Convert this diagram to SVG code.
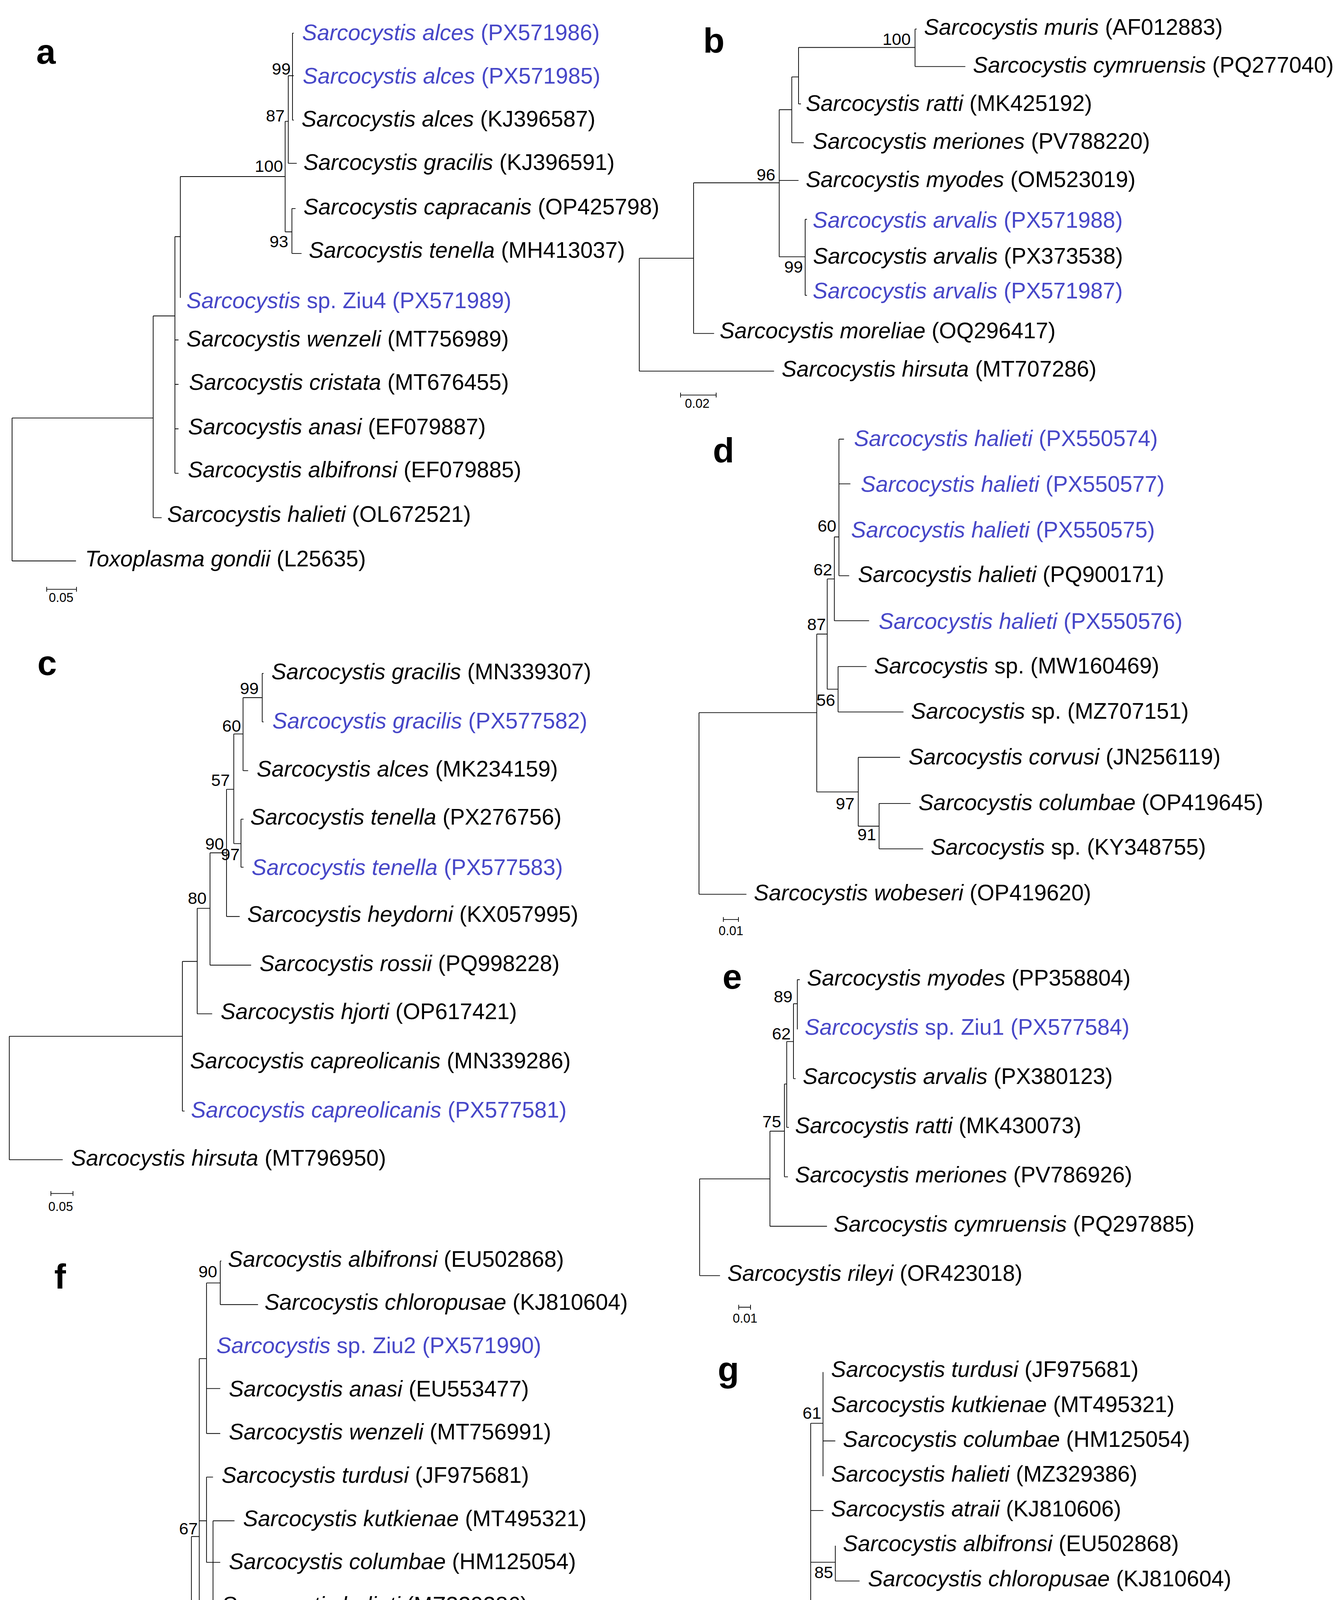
<svg xmlns="http://www.w3.org/2000/svg" width="3429" height="4821" viewBox="0 0 3429 4821">
<style>
.t{font-family:"Liberation Sans",Arial,sans-serif;font-size:18.5px;fill:#000}
.b{fill:#4747c8}
.i{font-style:italic}
.n{font-family:"Liberation Sans",Arial,sans-serif;font-size:14px;text-anchor:end;fill:#000}
.s{font-family:"Liberation Sans",Arial,sans-serif;font-size:10.5px;text-anchor:middle;fill:#000}
.L{font-family:"Liberation Sans",Arial,sans-serif;font-size:29px;font-weight:bold;fill:#000}
.ln{fill:none;stroke:#000;stroke-width:0.6}
</style>
<rect width="3429" height="4821" fill="#fff"/>
<g transform="scale(3.089,3.075)">
<g id="connectors" class="ln">
<path d="M10 348V467M10 348H127M10 467H63M127 263V431M127 263H145M127 431H134M145 197V394M145 197H149.5M145 283H148M145 320H148M145 357H148M145 394H148M149.5 147V248M149.5 147H236.4M236.4 101V193M236.4 101H239M236.4 193H242M239 63V136M239 63H242.5M239 136H246M242.5 27.6V100M242.5 27.6H243.5M242.5 63H243.5M242.5 100H243.5M242 173.6V211M242 173.6H245M242 211H250"/>
<path d="M530 215V309M530 215H575M530 309H641.7M575 152.2V277.6M575 152.2H646M575 277.6H592M646 91.3V213.8M646 150.2H662M646 91.3H656.4M646 213.8H667.5M656.4 64V118.8M656.4 64H662M656.4 118.8H666.4M662 39.5V86.5M662 39.5H758.6M662 86.5H664M758.6 24.2V55.4M758.6 24.2H760M758.6 55.4H800.3M667.5 182.6V245.9M667.5 182.6H669M667.5 245.9H669"/>
<path d="M7.7 862.7V965.5M7.7 862.7H151.2M7.7 965.5H52M151.2 800.4V925M151.2 800.4H163.5M151.2 925H153M163.5 756.2V844M163.5 756.2H174.1M163.5 844H175.9M174.1 710V803.5M174.1 710H187.8M174.1 803.5H208.2M187.8 657.1V763M187.8 657.1H193.8M187.8 763H198.7M193.8 611V702.3M193.8 611H201.5M193.8 702.3H199.8M199.8 682V722M199.8 682H201.9M199.8 722H201.9M201.5 580.8V641.6M201.5 580.8H217.4M201.5 641.6H205.7M217.4 560.6V601M217.4 560.6H218.5M217.4 601H218.5"/>
<path d="M579.5 593.3V744.5M579.5 593.3H677.1M579.5 744.5H618.8M677.1 527.9V659.3M677.1 527.9H685.8M677.1 659.3H711.5M711.5 630.5V687.8M711.5 630.5H746.2M711.5 687.8H728.8M728.8 668.9V706.7M728.8 668.9H754.9M728.8 706.7H765.3M685.8 482V573.8M685.8 482H691.7M685.8 573.8H694.8M694.8 554.9V592.7M694.8 554.9H718.4M694.8 592.7H749M691.7 447V516.8M691.7 447H695.5M691.7 516.8H720.5M695.5 365.6V479.3M695.5 365.6H699.7M695.5 402.8H705M695.5 479.3H704"/>
<path d="M580 981.4V1062M580 981.4H638.3M580 1062H596.9M638.3 941.7V1020.9M638.3 941.7H650.3M638.3 1020.9H685.6M650.3 902.5V979.7M650.3 902.5H652.2M650.3 979.7H653.2M652.2 867.1V938.6M652.2 867.1H657.8M652.2 938.6H654M657.8 835.6V898M657.8 835.6H661M657.8 898H659.6M661 815.6V857M661 815.6H663"/>
<path d="M9.2 1380.3V1518.7M9.2 1380.3H158.7M9.2 1518.7H108.9M158.7 1279.2V1482.4M158.7 1279.2H165.2M158.7 1482.4H171.9M165.2 1131.1V1427M165.2 1131.1H171.2M165.2 1266.1H171.2M165.2 1373.4H171.2M165.2 1427H176.6M171.2 1068.1V1193.4M171.2 1068.1H182.6M171.2 1156H182.6M171.2 1193.4H182.6M182.6 1049.8V1086.1M182.6 1049.8H183.5M182.6 1086.1H213.9M171.2 1229.7V1300.7M171.2 1229.7H176.6M171.2 1300.7H182.6M176.6 1266.1V1337M176.6 1266.1H194.4M176.6 1408V1446M176.6 1408H177.5M176.6 1446H201.5"/>
<path d="M577.3 1338.2V1519.7M577.3 1338.2H672.1M577.3 1519.7H607.9M672.1 1184.9V1490.4M672.1 1184.9H682.3M672.1 1257.5H682.6M672.1 1300.6H692.5M672.1 1359.4H682.6M672.1 1490.4H692.5M682.3 1142.3V1229M682.3 1199.6H692.5M692.5 1286.8V1316.2M692.5 1316.2H712.6M682.6 1345.6V1374.1M682.6 1345.6H692.5M682.6 1374.1H692.5"/>
<path d="M38.7 488.6V492.6M38.7 490.6H63.4M63.4 488.6V492.6M564.2 326.9V330.9M564.2 328.9H593.7M593.7 326.9V330.9M42.2 991.6V995.6M42.2 993.6H60.5M60.5 991.6V995.6M599.7 763.5V767.5M599.7 765.5H612.2M612.2 763.5V767.5M612.4 1086.3V1090.3M612.4 1088.3H622.2M622.2 1086.3V1090.3M41.2 1536.5V1540.5M41.2 1538.5H66.9M66.9 1536.5V1540.5M609.7 1540.3V1544.3M609.7 1542.3H630.8M630.8 1540.3V1544.3"/>
</g>
<g id="panel-a">
<text class="L" x="30" y="53">a</text>
<text class="t b" x="250.5" y="33.5"><tspan class="i">Sarcocystis alces</tspan> (PX571986)</text>
<text class="t b" x="251" y="69.5"><tspan class="i">Sarcocystis alces</tspan> (PX571985)</text>
<text class="t" x="250" y="105.5"><tspan class="i">Sarcocystis alces</tspan> (KJ396587)</text>
<text class="t" x="251.6" y="141.5"><tspan class="i">Sarcocystis gracilis</tspan> (KJ396591)</text>
<text class="t" x="251.6" y="178.5"><tspan class="i">Sarcocystis capracanis</tspan> (OP425798)</text>
<text class="t" x="256" y="214.5"><tspan class="i">Sarcocystis tenella</tspan> (MH413037)</text>
<text class="t b" x="154.6" y="256.5"><tspan class="i">Sarcocystis</tspan> sp. Ziu4 (PX571989)</text>
<text class="t" x="154.6" y="288.5"><tspan class="i">Sarcocystis wenzeli</tspan> (MT756989)</text>
<text class="t" x="156.7" y="324.5"><tspan class="i">Sarcocystis cristata</tspan> (MT676455)</text>
<text class="t" x="156" y="361.5"><tspan class="i">Sarcocystis anasi</tspan> (EF079887)</text>
<text class="t" x="155.7" y="397.5"><tspan class="i">Sarcocystis albifronsi</tspan> (EF079885)</text>
<text class="t" x="138.6" y="434.5"><tspan class="i">Sarcocystis halieti</tspan> (OL672521)</text>
<text class="t" x="70.6" y="471.5"><tspan class="i">Toxoplasma gondii</tspan> (L25635)</text>
<text class="n" x="241" y="62">99</text>
<text class="n" x="236" y="101">87</text>
<text class="n" x="234.6" y="143">100</text>
<text class="n" x="239" y="206">93</text>
<text class="s" x="50.7" y="501">0.05</text>
</g>
<g id="panel-b">
<text class="L" x="583" y="44">b</text>
<text class="t" x="766" y="28.9"><tspan class="i">Sarcocystis muris</tspan> (AF012883)</text>
<text class="t" x="806.6" y="60.5"><tspan class="i">Sarcocystis cymruensis</tspan> (PQ277040)</text>
<text class="t" x="668" y="92.5"><tspan class="i">Sarcocystis ratti</tspan> (MK425192)</text>
<text class="t" x="673.8" y="124"><tspan class="i">Sarcocystis meriones</tspan> (PV788220)</text>
<text class="t" x="668" y="155.9"><tspan class="i">Sarcocystis myodes</tspan> (OM523019)</text>
<text class="t b" x="673.8" y="189.5"><tspan class="i">Sarcocystis arvalis</tspan> (PX571988)</text>
<text class="t" x="674" y="219.5"><tspan class="i">Sarcocystis arvalis</tspan> (PX373538)</text>
<text class="t b" x="673.8" y="248.5"><tspan class="i">Sarcocystis arvalis</tspan> (PX571987)</text>
<text class="t" x="596.6" y="281.5"><tspan class="i">Sarcocystis moreliae</tspan> (OQ296417)</text>
<text class="t" x="648" y="313.5"><tspan class="i">Sarcocystis hirsuta</tspan> (MT707286)</text>
<text class="n" x="755" y="37.3">100</text>
<text class="n" x="642.8" y="150.4">96</text>
<text class="n" x="665.7" y="227">99</text>
<text class="s" x="578" y="339.5">0.02</text>
</g>
<g id="panel-c">
<text class="L" x="31" y="562">c</text>
<text class="t" x="225" y="565.5"><tspan class="i">Sarcocystis gracilis</tspan> (MN339307)</text>
<text class="t b" x="225.8" y="606.5"><tspan class="i">Sarcocystis gracilis</tspan> (PX577582)</text>
<text class="t" x="212.8" y="646.5"><tspan class="i">Sarcocystis alces</tspan> (MK234159)</text>
<text class="t" x="207.5" y="686.5"><tspan class="i">Sarcocystis tenella</tspan> (PX276756)</text>
<text class="t b" x="208.6" y="728.5"><tspan class="i">Sarcocystis tenella</tspan> (PX577583)</text>
<text class="t" x="205" y="767.5"><tspan class="i">Sarcocystis heydorni</tspan> (KX057995)</text>
<text class="t" x="215.2" y="808.5"><tspan class="i">Sarcocystis rossii</tspan> (PQ998228)</text>
<text class="t" x="182.9" y="848.5"><tspan class="i">Sarcocystis hjorti</tspan> (OP617421)</text>
<text class="t" x="157.6" y="889.5"><tspan class="i">Sarcocystis capreolicanis</tspan> (MN339286)</text>
<text class="t b" x="158.3" y="930.5"><tspan class="i">Sarcocystis capreolicanis</tspan> (PX577581)</text>
<text class="t" x="59" y="970.5"><tspan class="i">Sarcocystis hirsuta</tspan> (MT796950)</text>
<text class="n" x="214.5" y="578">99</text>
<text class="n" x="199.8" y="609">60</text>
<text class="n" x="190.6" y="654.3">57</text>
<text class="n" x="185.7" y="707.3">90</text>
<text class="n" x="198.7" y="716">97</text>
<text class="n" x="171.3" y="752.5">80</text>
<text class="s" x="50.3" y="1008">0.05</text>
</g>
<g id="panel-d">
<text class="L" x="591" y="385">d</text>
<text class="t b" x="708" y="371.5"><tspan class="i">Sarcocystis halieti</tspan> (PX550574)</text>
<text class="t b" x="713.6" y="409.5"><tspan class="i">Sarcocystis halieti</tspan> (PX550577)</text>
<text class="t b" x="705.6" y="447.5"><tspan class="i">Sarcocystis halieti</tspan> (PX550575)</text>
<text class="t" x="711.2" y="484.5"><tspan class="i">Sarcocystis halieti</tspan> (PQ900171)</text>
<text class="t b" x="728.5" y="523.5"><tspan class="i">Sarcocystis halieti</tspan> (PX550576)</text>
<text class="t" x="724.7" y="560.5"><tspan class="i">Sarcocystis</tspan> sp. (MW160469)</text>
<text class="t" x="755.3" y="598.5"><tspan class="i">Sarcocystis</tspan> sp. (MZ707151)</text>
<text class="t" x="753.2" y="636.5"><tspan class="i">Sarcocystis corvusi</tspan> (JN256119)</text>
<text class="t" x="761.5" y="674.5"><tspan class="i">Sarcocystis columbae</tspan> (OP419645)</text>
<text class="t" x="771.6" y="711.5"><tspan class="i">Sarcocystis</tspan> sp. (KY348755)</text>
<text class="t" x="625" y="749.5"><tspan class="i">Sarcocystis wobeseri</tspan> (OP419620)</text>
<text class="n" x="693.4" y="442.7">60</text>
<text class="n" x="690" y="479">62</text>
<text class="n" x="684.7" y="524.7">87</text>
<text class="n" x="692.4" y="587.5">56</text>
<text class="n" x="708.4" y="673.9">97</text>
<text class="n" x="726.4" y="699.5">91</text>
<text class="s" x="606" y="778.5">0.01</text>
</g>
<g id="panel-e">
<text class="L" x="599" y="823">e</text>
<text class="t" x="669" y="820.5"><tspan class="i">Sarcocystis myodes</tspan> (PP358804)</text>
<text class="t b" x="667.1" y="861.5"><tspan class="i">Sarcocystis</tspan> sp. Ziu1 (PX577584)</text>
<text class="t" x="665.5" y="902.5"><tspan class="i">Sarcocystis arvalis</tspan> (PX380123)</text>
<text class="t" x="659.1" y="943.5"><tspan class="i">Sarcocystis ratti</tspan> (MK430073)</text>
<text class="t" x="659.1" y="984.5"><tspan class="i">Sarcocystis meriones</tspan> (PV786926)</text>
<text class="t" x="691.2" y="1025.5"><tspan class="i">Sarcocystis cymruensis</tspan> (PQ297885)</text>
<text class="t" x="603" y="1066.5"><tspan class="i">Sarcocystis rileyi</tspan> (OR423018)</text>
<text class="n" x="657" y="834.4">89</text>
<text class="n" x="655.6" y="865.3">62</text>
<text class="n" x="647.6" y="938.4">75</text>
<text class="s" x="617.7" y="1101">0.01</text>
</g>
<g id="panel-f">
<text class="L" x="45" y="1073">f</text>
<text class="t" x="189" y="1054.5"><tspan class="i">Sarcocystis albifronsi</tspan> (EU502868)</text>
<text class="t" x="219.3" y="1090.5"><tspan class="i">Sarcocystis chloropusae</tspan> (KJ810604)</text>
<text class="t b" x="179.4" y="1126.5"><tspan class="i">Sarcocystis</tspan> sp. Ziu2 (PX571990)</text>
<text class="t" x="189.7" y="1162.5"><tspan class="i">Sarcocystis anasi</tspan> (EU553477)</text>
<text class="t" x="189.7" y="1198.5"><tspan class="i">Sarcocystis wenzeli</tspan> (MT756991)</text>
<text class="t" x="183.7" y="1234.5"><tspan class="i">Sarcocystis turdusi</tspan> (JF975681)</text>
<text class="t" x="201.5" y="1270.5"><tspan class="i">Sarcocystis kutkienae</tspan> (MT495321)</text>
<text class="t" x="189.7" y="1306.5"><tspan class="i">Sarcocystis columbae</tspan> (HM125054)</text>
<text class="t" x="183.7" y="1342.5"><tspan class="i">Sarcocystis halieti</tspan> (MZ329386)</text>
<text class="t" x="177.6" y="1379.5"><tspan class="i">Sarcocystis lari</tspan> (MF946588)</text>
<text class="t" x="183.7" y="1415.5"><tspan class="i">Sarcocystis rileyi</tspan> (OR416136)</text>
<text class="t" x="207.5" y="1451.5"><tspan class="i">Sarcocystis atraii</tspan> (KJ810606)</text>
<text class="t" x="178.3" y="1487.5"><tspan class="i">Sarcocystis mucosa</tspan> (AF109679)</text>
<text class="t" x="116" y="1523.5"><tspan class="i">Toxoplasma gondii</tspan> (EF472967)</text>
<text class="n" x="180.1" y="1063.4">90</text>
<text class="n" x="164" y="1277.3">67</text>
<text class="n" x="175.5" y="1441.4">91</text>
<text class="s" x="54" y="1552.5">0.005</text>
</g>
<g id="panel-g">
<text class="L" x="595" y="1150">g</text>
<text class="t" x="689" y="1146.5"><tspan class="i">Sarcocystis turdusi</tspan> (JF975681)</text>
<text class="t" x="689" y="1175.5"><tspan class="i">Sarcocystis kutkienae</tspan> (MT495321)</text>
<text class="t" x="698.8" y="1204.5"><tspan class="i">Sarcocystis columbae</tspan> (HM125054)</text>
<text class="t" x="689" y="1233.5"><tspan class="i">Sarcocystis halieti</tspan> (MZ329386)</text>
<text class="t" x="689" y="1262.5"><tspan class="i">Sarcocystis atraii</tspan> (KJ810606)</text>
<text class="t" x="698.8" y="1291.5"><tspan class="i">Sarcocystis albifronsi</tspan> (EU502868)</text>
<text class="t" x="719.6" y="1320.5"><tspan class="i">Sarcocystis chloropusae</tspan> (KJ810604)</text>
<text class="t" x="698.8" y="1349.5"><tspan class="i">Sarcocystis mucosa</tspan> (AF109679)</text>
<text class="t" x="698.8" y="1379.5"><tspan class="i">Sarcocystis wenzeli</tspan> (MT756991)</text>
<text class="t" x="678.4" y="1408.5"><tspan class="i">Sarcocystis lari</tspan> (MF946588)</text>
<text class="t" x="678.4" y="1437.5"><tspan class="i">Sarcocystis rileyi</tspan> (OR416136)</text>
<text class="t b" x="678.4" y="1466.5"><tspan class="i">Sarcocystis</tspan> sp. Ziu3 (PX571991)</text>
<text class="t" x="698.8" y="1495.5"><tspan class="i">Sarcocystis anasi</tspan> (EU553477)</text>
<text class="t" x="615" y="1524.5"><tspan class="i">Toxoplasma gondii</tspan> (EF472967)</text>
<text class="n" x="680.9" y="1181.1">61</text>
<text class="n" x="690.7" y="1313.9">85</text>
<text class="n" x="680.9" y="1372">67</text>
<text class="s" x="620.3" y="1556">0.005</text>
</g>
</g>
</svg>
